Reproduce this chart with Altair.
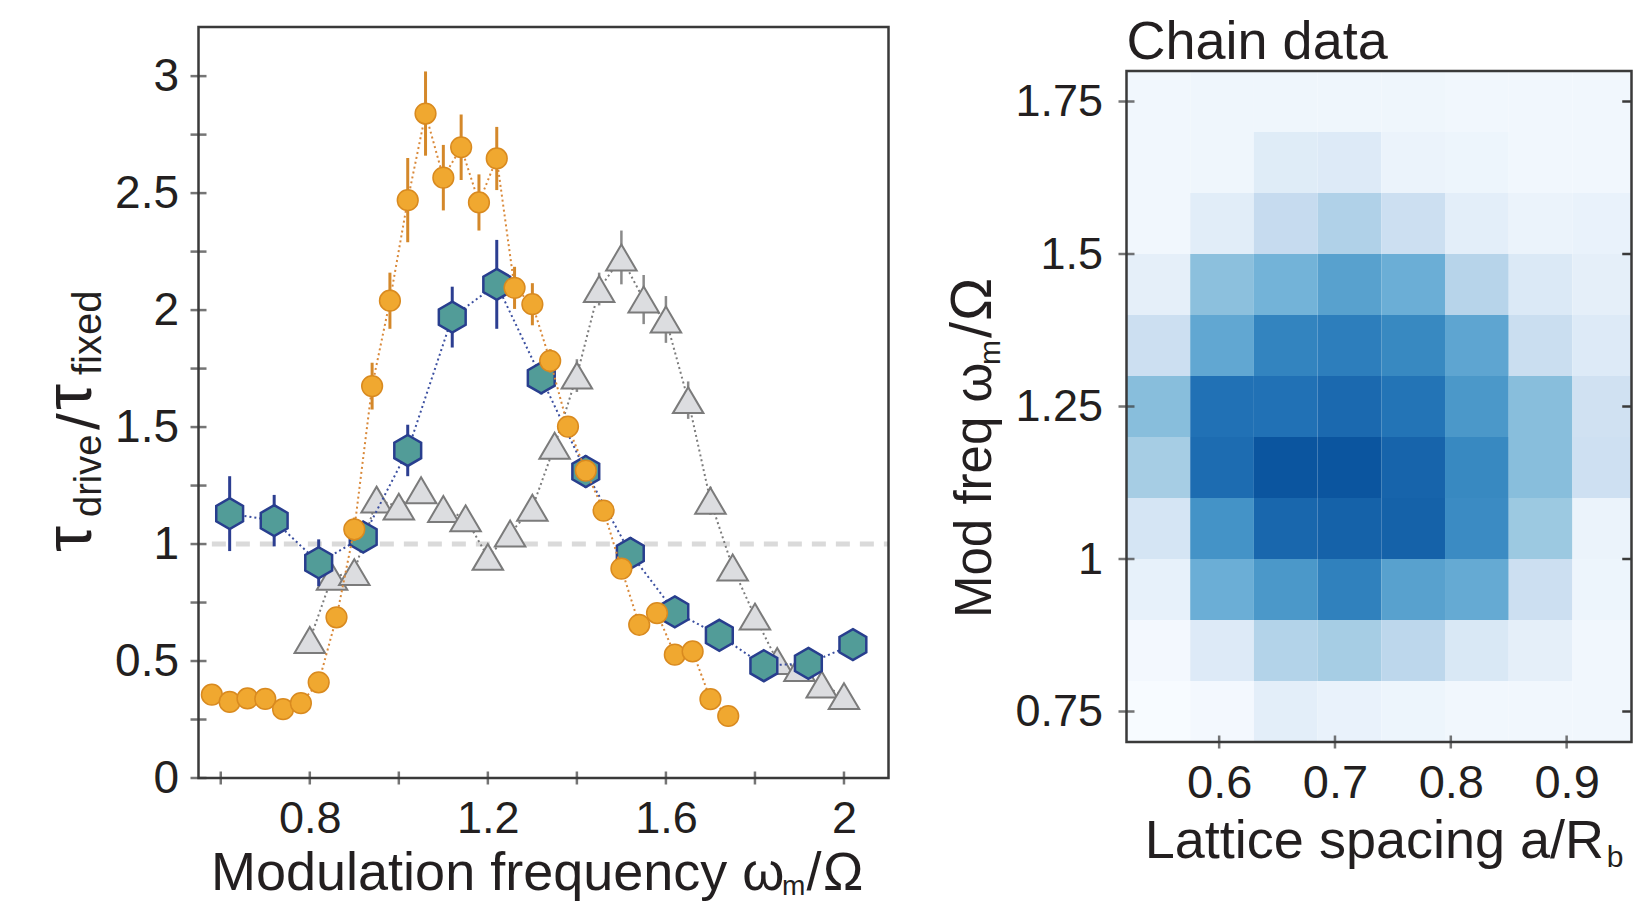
import altair as alt
import pandas as pd

FONT = "Liberation Sans"
INK = "#231f20"

# ---------------- left panel: tau_drive / tau_fixed vs modulation frequency ----------------
orange_x = [0.58, 0.62, 0.66, 0.70, 0.74, 0.78, 0.82, 0.86, 0.90, 0.94, 0.98, 1.02, 1.06, 1.10, 1.14,
            1.18, 1.22, 1.26, 1.30, 1.34, 1.38, 1.42, 1.46, 1.50, 1.54, 1.58, 1.62, 1.66, 1.70, 1.74]
orange_y = [0.356, 0.325, 0.340, 0.338, 0.294, 0.320, 0.409, 0.687, 1.063, 1.675, 2.040, 2.470, 2.840, 2.566, 2.696,
            2.460, 2.648, 2.095, 2.025, 1.783, 1.502, 1.314, 1.143, 0.895, 0.655, 0.705, 0.527, 0.541, 0.337, 0.265]
orange_err = [0.02, 0.02, 0.02, 0.02, 0.02, 0.02, 0.02, 0.04, 0.05, 0.10, 0.12, 0.18, 0.18, 0.14, 0.14,
              0.12, 0.135, 0.09, 0.09, 0.05, 0.04, 0.04, 0.03, 0.03, 0.02, 0.02, 0.02, 0.02, 0.02, 0.02]

teal_x = [0.62, 0.72, 0.82, 0.92, 1.02, 1.12, 1.22, 1.32, 1.42, 1.52, 1.62, 1.72, 1.82, 1.92, 2.02]
teal_y = [1.13, 1.10, 0.92, 1.03, 1.40, 1.97, 2.11, 1.71, 1.31, 0.96, 0.71, 0.61, 0.48, 0.49, 0.57]
teal_err = [0.16, 0.11, 0.10, 0.06, 0.11, 0.13, 0.19, 0.07, 0.07, 0.07, 0.04, 0.04, 0.04, 0.04, 0.05]

gray_x = [0.80, 0.85, 0.90, 0.95, 1.00, 1.05, 1.10, 1.15, 1.20, 1.25, 1.30, 1.35, 1.40,
          1.45, 1.50, 1.55, 1.60, 1.65, 1.70, 1.75, 1.80, 1.85, 1.90, 1.95, 2.00]
gray_y = [0.59, 0.86, 0.88, 1.19, 1.16, 1.23, 1.15, 1.11, 0.945, 1.045, 1.155, 1.42, 1.72,
          2.09, 2.225, 2.045, 1.96, 1.615, 1.185, 0.90, 0.69, 0.50, 0.47, 0.40, 0.35]
gray_err = [0.04, 0.04, 0.04, 0.05, 0.04, 0.05, 0.04, 0.04, 0.04, 0.04, 0.05, 0.05, 0.07,
            0.07, 0.115, 0.105, 0.10, 0.08, 0.06, 0.05, 0.04, 0.04, 0.04, 0.04, 0.04]

left_x_domain = [0.55, 2.10]
left_y_domain = [0.0, 3.21]
left_x_labels = [0.8, 1.2, 1.6, 2.0]
left_x_ticks = [0.6, 0.8, 1.0, 1.2, 1.4, 1.6, 1.8, 2.0]
left_y_labels = [0.0, 0.5, 1.0, 1.5, 2.0, 2.5, 3.0]
left_y_ticks = [0.0, 0.25, 0.5, 0.75, 1.0, 1.25, 1.5, 1.75, 2.0, 2.25, 2.5, 2.75, 3.0]
reference_level = 1.0

# ---------------- right panel: chain data heat map ----------------
lattice = [0.5475, 0.6025, 0.6575, 0.7125, 0.7675, 0.8225, 0.8775, 0.9325]
modfreq = [1.75, 1.65, 1.55, 1.45, 1.35, 1.25, 1.15, 1.05, 0.95, 0.85, 0.75]
intensity = [
    [0.03, 0.04, 0.04, 0.04, 0.04, 0.03, 0.03, 0.03],
    [0.03, 0.04, 0.12, 0.13, 0.06, 0.05, 0.03, 0.03],
    [0.03, 0.11, 0.25, 0.32, 0.22, 0.10, 0.06, 0.07],
    [0.09, 0.42, 0.48, 0.56, 0.50, 0.30, 0.14, 0.09],
    [0.22, 0.53, 0.68, 0.70, 0.66, 0.54, 0.23, 0.13],
    [0.43, 0.75, 0.75, 0.78, 0.74, 0.60, 0.43, 0.20],
    [0.35, 0.77, 0.86, 0.86, 0.80, 0.66, 0.43, 0.21],
    [0.17, 0.62, 0.79, 0.81, 0.81, 0.65, 0.38, 0.06],
    [0.08, 0.50, 0.60, 0.69, 0.56, 0.52, 0.22, 0.05],
    [0.02, 0.13, 0.31, 0.35, 0.28, 0.15, 0.09, 0.03],
    [0.00, 0.02, 0.10, 0.07, 0.05, 0.03, 0.03, 0.03],
]
cell_w = 0.055
cell_h = 0.10
right_x_domain = [0.52, 0.956]
right_y_domain = [0.70, 1.80]
right_x_labels = [0.6, 0.7, 0.8, 0.9]
right_y_labels = [0.75, 1.0, 1.25, 1.5, 1.75]
blues = ["#f7fbff", "#deebf7", "#c6dbef", "#9ecae1", "#6baed6", "#4292c6", "#2171b5", "#08519c", "#08306b"]
blues_stops = [0.0, 0.125, 0.25, 0.375, 0.5, 0.625, 0.75, 0.875, 1.0]

# ---------------- layout (pixels) ----------------
LW, LH = 690, 751
RW, RH = 505, 715
R_RANGE = [715, 44]

FRAME = "#3a3a3a"


def series(xs, ys, es):
    return pd.DataFrame({"f": xs, "r": ys,
                         "lo": [y - e for y, e in zip(ys, es)],
                         "hi": [y + e for y, e in zip(ys, es)]})


lx_scale = alt.Scale(domain=left_x_domain, nice=False, zero=False)
ly_scale = alt.Scale(domain=left_y_domain, nice=False, zero=False)
lx_axis = alt.Axis(values=left_x_labels, labelExpr="datum.value + ''", ticks=False, domain=False,
                   grid=False, labelPadding=18, labelFontSize=45, title=None)
ly_axis = alt.Axis(values=left_y_labels, labelExpr="datum.value + ''", ticks=False, domain=False,
                   grid=False, labelPadding=20, labelFontSize=46, title=None)


def LX(field=None, datum=None):
    if datum is not None:
        return alt.X(datum=datum, scale=lx_scale, axis=lx_axis)
    return alt.X(field, type="quantitative", scale=lx_scale, axis=lx_axis)


def LY(field=None, datum=None):
    if datum is not None:
        return alt.Y(datum=datum, scale=ly_scale, axis=ly_axis)
    return alt.Y(field, type="quantitative", scale=ly_scale, axis=ly_axis)


one = pd.DataFrame({"k": [0]})

frame_l = alt.Chart(one).mark_rect(fillOpacity=0, stroke=FRAME, strokeWidth=2.5).encode(
    x=LX(datum=left_x_domain[0]), x2=alt.X2(datum=left_x_domain[1]),
    y=LY(datum=left_y_domain[0]), y2=alt.Y2(datum=left_y_domain[1]))

dash = alt.Chart(one).mark_rule(color="#dadada", strokeWidth=5, strokeDash=[14, 10]).encode(
    x=LX(datum=0.58), x2=alt.X2(datum=left_x_domain[1]), y=LY(datum=reference_level))

ticks_lx = alt.Chart(pd.DataFrame({"t": left_x_ticks})).mark_tick(
    orient="vertical", size=13, thickness=2.5, color=FRAME).encode(x=LX("t"), y=LY(datum=0.0))
ticks_ly = alt.Chart(pd.DataFrame({"t": left_y_ticks})).mark_tick(
    orient="horizontal", size=16, thickness=2.5, color=FRAME).encode(y=LY("t"), x=LX(datum=left_x_domain[0]))

HEX = "M0,-1L0.866,-0.5L0.866,0.5L0,1L-0.866,0.5L-0.866,-0.5Z"
TRI = "M0,-0.85L1,0.85L-1,0.85Z"


def series_layers(df, line_color, err_color, err_w, shape, size, fill, stroke, stroke_w):
    base = alt.Chart(df)
    line = base.mark_line(color=line_color, strokeWidth=2, strokeDash=[2, 3]).encode(x=LX("f"), y=LY("r"))
    err = base.mark_rule(color=err_color, strokeWidth=err_w).encode(x=LX("f"), y=LY("lo"), y2="hi:Q")
    pts = base.mark_point(shape=shape, size=size, filled=True, fill=fill, stroke=stroke,
                          strokeWidth=stroke_w, opacity=1).encode(x=LX("f"), y=LY("r"))
    return [line, err, pts]


gray_layers = series_layers(series(gray_x, gray_y, gray_err), "#7c7c7c", "#8a8a8a", 2.5,
                            TRI, 930, "#dcdde0", "#7b7b7b", 2)
teal_layers = series_layers(series(teal_x, teal_y, teal_err), "#3b4fa0", "#2c3e91", 3,
                            HEX, 960, "#529c98", "#283e8e", 2.5)
orange_layers = series_layers(series(orange_x, orange_y, orange_err), "#d9893a", "#d4882a", 3,
                              "circle", 430, "#f0a830", "#d98a1f", 1.5)


def label(text, px, py, size, angle=0):
    return alt.Chart(one).mark_text(text=text, fontSize=size, angle=angle, align="left",
                                    baseline="alphabetic", font=FONT, color=INK).encode(
        x=alt.value(px), y=alt.value(py))


left_labels = [
    # x-axis title: Modulation frequency ω_m/Ω
    label("Modulation frequency ω", 12.5, 863, 54),
    label("m", 583.5, 868, 28),
    label("/", 608, 863, 54),
    label("Ω", 624.5, 863, 54),
    # y-axis title: τ_drive / τ_fixed (reads bottom to top)
    label("τ", -108, 525, 66, 270),
    label("drive", -97.5, 490, 38, 270),
    label("/", -99.5, 403, 60, 270),
    label("τ", -108, 383, 66, 270),
    label("fixed", -97.5, 348, 40, 270),
]

left = alt.layer(dash, *gray_layers, *teal_layers, *orange_layers, frame_l, ticks_lx, ticks_ly,
                 *left_labels).properties(width=LW, height=LH)

# ---------------- right chart ----------------
rows = []
for i, m in enumerate(modfreq):
    for j, a in enumerate(lattice):
        rows.append({"a": a, "m": m, "v": intensity[i][j],
                     "a0": a - cell_w / 2, "a1": a + cell_w / 2,
                     "m0": m - cell_h / 2, "m1": m + cell_h / 2})
heat_df = pd.DataFrame(rows)

rx_scale = alt.Scale(domain=right_x_domain, nice=False, zero=False)
ry_scale = alt.Scale(domain=right_y_domain, nice=False, zero=False, range=R_RANGE)
rx_axis = alt.Axis(values=right_x_labels, labelExpr="datum.value + ''", ticks=False, domain=False,
                   grid=False, labelPadding=18, labelFontSize=47, title=None)
ry_axis = alt.Axis(values=right_y_labels, labelExpr="datum.value + ''", ticks=False, domain=False,
                   grid=False, labelPadding=24, labelFontSize=45, title=None)


def RX(field=None, datum=None):
    if datum is not None:
        return alt.X(datum=datum, scale=rx_scale, axis=rx_axis)
    return alt.X(field, type="quantitative", scale=rx_scale, axis=rx_axis)


def RY(field=None, datum=None):
    if datum is not None:
        return alt.Y(datum=datum, scale=ry_scale, axis=ry_axis)
    return alt.Y(field, type="quantitative", scale=ry_scale, axis=ry_axis)


heat = alt.Chart(heat_df).mark_rect(clip=True).encode(
    x=RX("a0"), x2="a1:Q", y=RY("m0"), y2="m1:Q",
    color=alt.Color("v:Q", scale=alt.Scale(domain=blues_stops, range=blues), legend=None))

frame_r = alt.Chart(one).mark_rect(fillOpacity=0, stroke=FRAME, strokeWidth=2.5).encode(
    x=RX(datum=right_x_domain[0]), x2=alt.X2(datum=right_x_domain[1]),
    y=RY(datum=right_y_domain[0]), y2=alt.Y2(datum=right_y_domain[1]))

ticks_rx = alt.Chart(pd.DataFrame({"t": right_x_labels})).mark_tick(
    orient="vertical", size=13, thickness=2.5, color=FRAME).encode(x=RX("t"), y=RY(datum=right_y_domain[0]))
ticks_ry = alt.Chart(pd.DataFrame({"t": right_y_labels})).mark_tick(
    orient="horizontal", size=16, thickness=2.5, color=FRAME).encode(y=RY("t"), x=RX(datum=right_x_domain[0]))
ticks_ry2 = alt.Chart(pd.DataFrame({"t": right_y_labels})).mark_rule(
    strokeWidth=2.5, color=FRAME).encode(y=RY("t"), x=RX(datum=0.948), x2=alt.X2(datum=right_x_domain[1]))

right_labels = [
    label("Chain data", 0, 32, 54),
    label("Lattice spacing a/R", 18.3, 831, 54),
    label("b", 480.3, 840, 30),
    label("Mod freq ω", -135.7, 591, 51, 270),
    label("m", -126.7, 338, 30, 270),
    label("/", -135.7, 311, 58, 270),
    label("Ω", -135.7, 294, 58, 270),
]

right = alt.layer(heat, frame_r, ticks_rx, ticks_ry, ticks_ry2, *right_labels).properties(width=RW, height=RH)

chart = alt.hconcat(left, right, spacing=238, bounds="flush").properties(
    padding={"left": 37.5, "top": 16, "right": 0, "bottom": 0}
).configure(font=FONT).configure_view(strokeWidth=0).configure_axis(
    labelFont=FONT, labelColor=INK)

chart.save("out.html", embed_options={"renderer": "svg", "actions": False})
